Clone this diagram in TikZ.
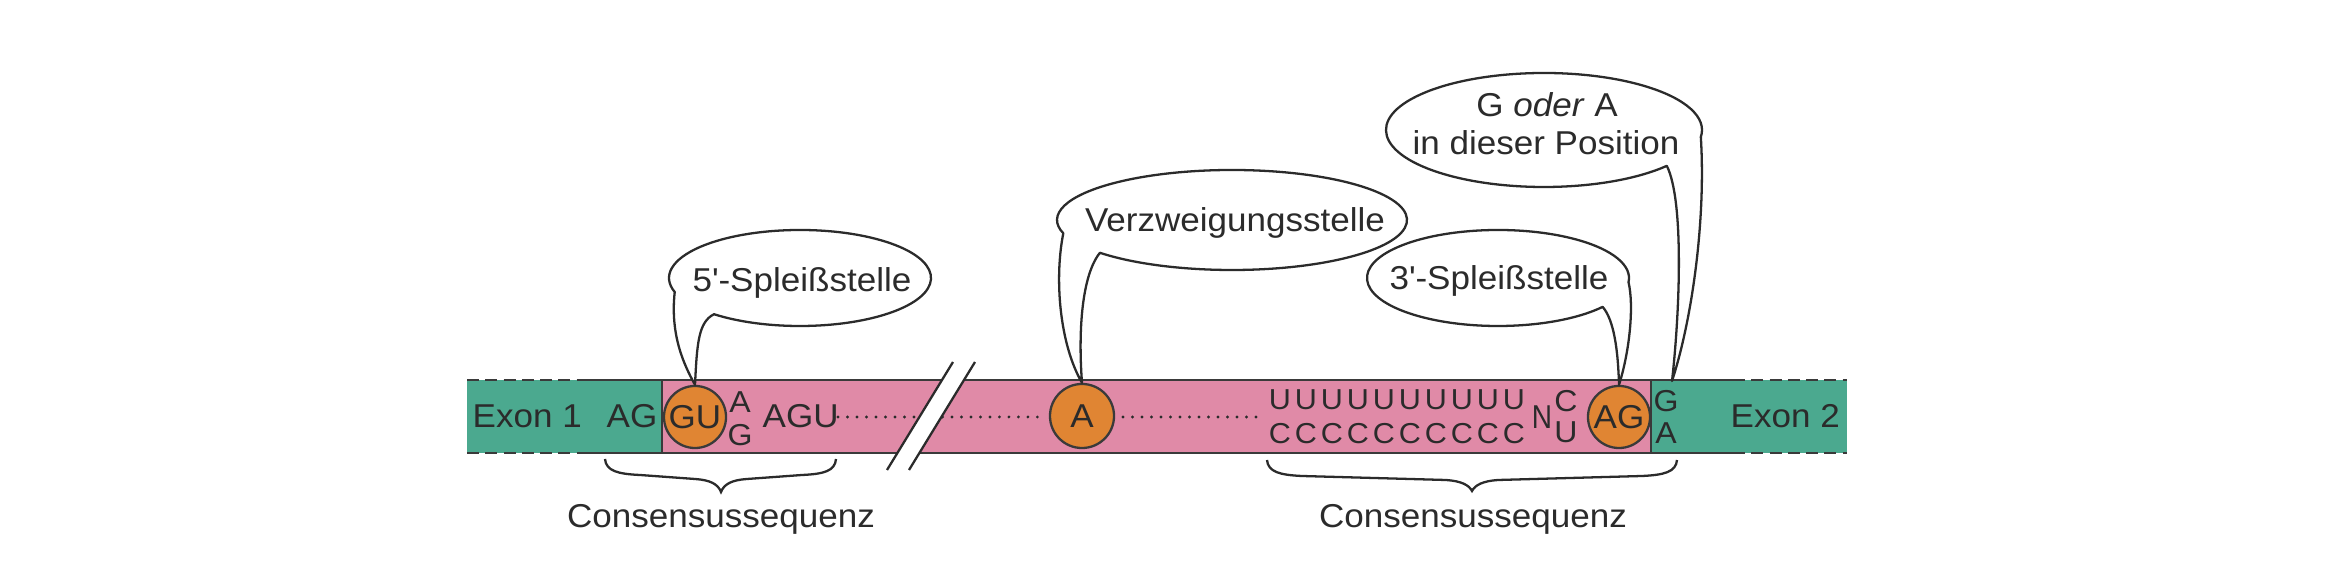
\documentclass[tikz,border=0pt]{standalone}
\usepackage{fontspec}
\setmainfont{Liberation Sans}[FakeStretch=1.06]
\usetikzlibrary{calc}
\definecolor{exon}{HTML}{4BA98F}
\definecolor{intron}{HTML}{E08AA7}
\definecolor{site}{HTML}{E08533}
\definecolor{edge}{HTML}{3A3A3A}
\definecolor{ink}{HTML}{2B2B2B}
\begin{document}
\begin{tikzpicture}[x=0.01cm,y=-0.01cm,
  lbl/.style={font=\fontsize{9.4}{11}\selectfont, inner sep=0pt, text=ink},
  small/.style={font=\fontsize{8.6}{10}\selectfont, inner sep=0pt, text=ink},
  tiny/.style={font=\fontsize{8.2}{9}\selectfont, inner sep=0pt, text=ink},
  sitecirc/.style={circle, fill=site, draw=edge, line width=0.65pt, minimum size=0.62cm, inner sep=0pt, text=ink, font=\fontsize{9.4}{11}\selectfont},
  bubble/.style={draw=ink, line width=0.65pt, fill=white, line join=round},
  barline/.style={draw=edge, line width=0.65pt},
  dashedbar/.style={draw=edge, line width=0.65pt, dash pattern=on 3.4pt off 1.8pt},
  dots/.style={draw=ink, line width=0.9pt, line cap=round, dash pattern=on 0pt off 2.7pt},
  bracestyle/.style={draw=ink, line width=0.65pt},
  breakline/.style={draw=ink, line width=0.65pt},
]
\useasboundingbox (0,0) rectangle (2339,583);

% ---- bar ----
\coordinate (tl) at (467,380);
\coordinate (bl) at (467,453);
\coordinate (tr) at (1847,380);
\coordinate (br) at (1847,453);
\coordinate (j1t) at (662,380);
\coordinate (j1b) at (662,453);
\coordinate (j2t) at (1651,380);
\coordinate (j2b) at (1651,453);
\coordinate (d1t) at (580,380);
\coordinate (d1b) at (580,453);
\coordinate (d2t) at (1733,380);
\coordinate (d2b) at (1733,453);

\fill[exon] (tl) rectangle (j1b);
\fill[intron] (j1t) rectangle (j2b);
\fill[exon] (j2t) rectangle (br);

\draw[dashedbar] (tl) -- (d1t);
\draw[dashedbar] (bl) -- (d1b);
\draw[barline] (d1t) -- (d2t);
\draw[barline] (d1b) -- (d2b);
\draw[dashedbar] (d2t) -- (tr);
\draw[dashedbar] (d2b) -- (br);
\draw[barline] (j1t) -- (j1b);
\draw[barline] (j2t) -- (j2b);

% ---- dotted stretches ----
\coordinate (dotA1) at (838,417);
\coordinate (dotA2) at (1043,417);
\coordinate (dotB1) at (1123,417);
\coordinate (dotB2) at (1265,417);
\draw[dots] (dotA1) -- (dotA2);
\draw[dots] (dotB1) -- (dotB2);

% ---- break mark ----
\coordinate (k1) at (887,470);
\coordinate (k2) at (953,362);
\coordinate (k3) at (975,362);
\coordinate (k4) at (909,470);
\fill[white] (k1) -- (k2) -- (k3) -- (k4) -- cycle;
\draw[breakline] (k1) -- (k2);
\draw[breakline] (k4) -- (k3);

% ---- sites ----
\node[sitecirc] (gu) at (695,417) {GU};
\node[sitecirc, minimum size=0.64cm] (a) at (1082,416) {A};
\node[sitecirc] (ag) at (1619,417) {AG};

% ---- sequence text ----
\node[lbl, anchor=base west] (ex1) at (472,428) {Exon 1};
\node[lbl, anchor=base] (ag1) at (632,428) {AG};
\node[small, anchor=base] (sa) at (740,413) {A};
\node[small, anchor=base] (sg) at (740,446) {G};
\node[lbl, anchor=base west] (agu) at (762,428) {AGU};
\foreach \i in {0,...,9} {
  \node[tiny, anchor=base] (u\i) at ({1280+26.0*\i},410) {U};
  \node[tiny, anchor=base] (c\i) at ({1280+26.0*\i},444) {C};
}
\node[lbl, anchor=base] (nn) at (1542,429) {\scalebox{0.8}[1]{N}};
\node[small, anchor=base] (cc) at (1566,412) {C};
\node[small, anchor=base] (uu) at (1566,443) {U};
\node[small, anchor=base] (gg) at (1666,412) {G};
\node[small, anchor=base] (aa) at (1666,444) {A};
\node[lbl, anchor=base west] (ex2) at (1730,428) {Exon 2};
\coordinate (gatip) at (1672,381);

% ---- braces ----
\draw[bracestyle] (605,459) .. controls (606,471) and (618,474) .. (640,475)
  -- (695,479) .. controls (710,480) and (718,484) .. (721,492)
  .. controls (724,484) and (732,480) .. (747,479)
  -- (802,475) .. controls (824,474) and (835,471) .. (836,459);
\draw[bracestyle] (1267,460) .. controls (1268,472) and (1280,475) .. (1302,476)
  -- (1446,480) .. controls (1461,481) and (1469,485) .. (1472,491)
  .. controls (1475,485) and (1483,481) .. (1498,480)
  -- (1642,476) .. controls (1664,475) and (1676,472) .. (1677,460);
\node[lbl, anchor=base] (cons1) at (721,528) {Consensussequenz};
\node[lbl, anchor=base] (cons2) at (1473,528) {Consensussequenz};

% ---- callouts ----
% 5'
\coordinate (c5) at (800,278);
\draw[bubble] ($(c5)+(131:131 and 48)$) coordinate (s5)
  arc[start angle=131, end angle=-197, x radius=131, y radius=48]
  .. controls (670,335) and (684,365) .. (gu.north)
  .. controls (697,345) and (698,322) .. (s5) -- cycle;
\node[lbl, anchor=base] (t5) at (802,292) {5\textquotesingle-Spleißstelle};

% branch point
\coordinate (cv) at (1232,220);
\draw[bubble] ($(cv)+(139:175 and 50)$) coordinate (sv)
  arc[start angle=139, end angle=-195.4, x radius=175, y radius=50]
  .. controls (1054,280) and (1060,345) .. (a.north)
  .. controls (1078,330) and (1082,275) .. (sv) -- cycle;
\node[lbl, anchor=base] (tv) at (1235,232) {Verzweigungsstelle};

% 3'
\coordinate (c3) at (1498,278);
\draw[bubble] ($(c3)+(37:131 and 48)$) coordinate (s3)
  arc[start angle=37, end angle=365, x radius=131, y radius=48]
  .. controls (1634,305) and (1630,350) .. (ag.north)
  .. controls (1618,350) and (1614,320) .. (s3) -- cycle;
\node[lbl, anchor=base] (t3) at (1499,290) {3\textquotesingle-Spleißstelle};

% G oder A
\coordinate (cg) at (1544,130);
\draw[bubble] ($(cg)+(39:158 and 57)$) coordinate (sg2)
  arc[start angle=39, end angle=367, x radius=158, y radius=57]
  .. controls (1706,220) and (1692,320) .. (gatip)
  .. controls (1680,310) and (1684,200) .. (sg2) -- cycle;
\node[lbl, anchor=base] (tg1) at (1547,117) {G \textit{oder} A};
\node[lbl, anchor=base] (tg2) at (1546,155) {in dieser Position};

\end{tikzpicture}
\end{document}
